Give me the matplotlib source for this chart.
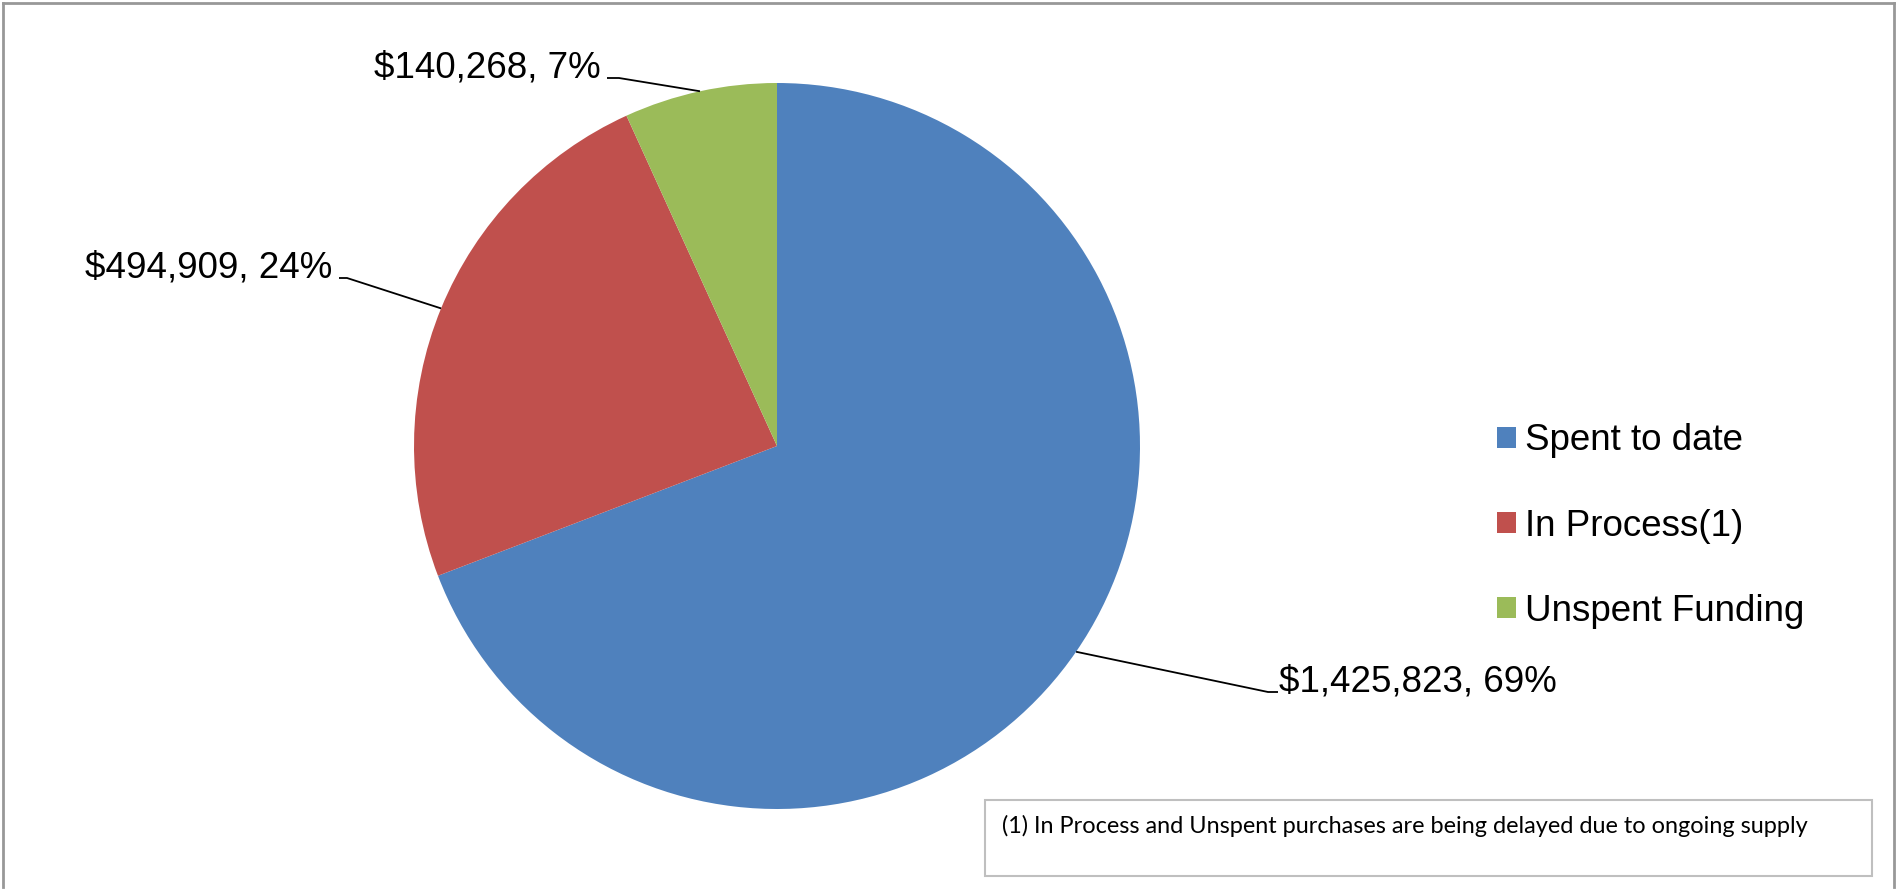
import matplotlib
matplotlib.use("Agg")
import matplotlib.pyplot as plt
from matplotlib.patches import Rectangle
from matplotlib.lines import Line2D
import numpy as np

# ---- data ----
categories = ["Spent to date", "In Process(1)", "Unspent Funding"]
values = [1425823, 494909, 140268]
colors = ["#4F81BD", "#C0504D", "#9BBB59"]
footnote = "(1) In Process and Unspent purchases are being delayed due to ongoing supply"

W, H = 1896, 889
fig = plt.figure(figsize=(W / 100, H / 100), dpi=100)
ax = fig.add_axes([0, 0, 1, 1])

def py(y):  # pixel-from-top -> data y
    return H - y

cx, cy, R = 777, py(446), 363
wedges, _ = ax.pie(values, colors=colors, startangle=90, counterclock=False,
                   center=(cx, cy), radius=R, wedgeprops=dict(linewidth=0))
ax.set_xlim(0, W)
ax.set_ylim(0, H)
ax.set_aspect("equal")
ax.axis("off")

total = sum(values)
FS = 26.5
font = "Liberation Sans"

# label layout: (text x, baseline y (px from top), ha, leader start x, leader end x)
layout = [
    (1279, 692, "left", 1278, 1268),
    (332, 278, "right", 339, 347),
    (601, 78, "right", 607, 619),
]
for w, v, (tx, by, ha, lx0, lx1) in zip(wedges, values, layout):
    pct = v / total * 100
    ax.text(tx, py(by), f"${v:,}, {pct:.0f}%", ha=ha, va="baseline",
            fontsize=FS, family=font, color="black")
    mid = np.deg2rad((w.theta1 + w.theta2) / 2)
    ex, ey = cx + R * np.cos(mid), cy + R * np.sin(mid)
    ax.plot([lx0, lx1, ex], [py(by), py(by), ey], color="black", lw=1.3,
            solid_capstyle="butt")

# legend
fpx = FS * 100 / 72
leg = ax.legend(wedges, categories, loc="center left",
                bbox_to_anchor=(1497 / W, (H - 526) / H),
                bbox_transform=fig.transFigure, frameon=False,
                prop=dict(family=font, size=FS),
                handlelength=19 / fpx, handleheight=19 / fpx,
                handletextpad=9 / fpx, labelspacing=1.36,
                borderpad=0, borderaxespad=0)

# footnote box
ax.add_patch(Rectangle((985, py(876)), 887, 76, facecolor="white",
                       edgecolor="#BFBFBF", lw=1.5, zorder=5))
ft = ax.text(1002, py(826), footnote, ha="left", va="center",
             family=["Lato", "Liberation Sans"], fontsize=17,
             color="black", zorder=6)
fig.canvas.draw()
bb = ft.get_window_extent()
ft.set_fontsize(17 * 808 / bb.width)

# outer border
for xs, ys in [([3, W - 2], [py(3), py(3)]), ([3, 3], [py(3), py(H - 2)]),
               ([W - 2, W - 2], [py(3), py(H - 2)])]:
    ax.add_line(Line2D(xs, ys, color="#989898", lw=2))

fig.savefig("out.png", dpi=100, facecolor="white")
